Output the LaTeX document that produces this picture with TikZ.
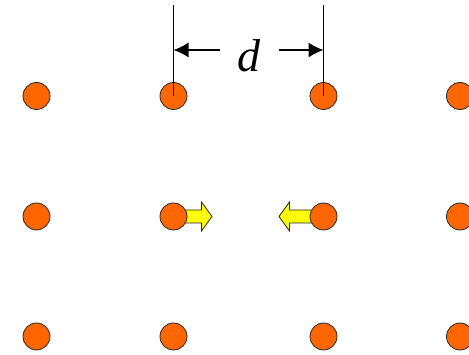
\documentclass[tikz,border=0pt]{standalone}
\usepackage{fontspec}
\setmainfont{Liberation Serif}
\usetikzlibrary{arrows.meta,backgrounds}

\definecolor{dotorange}{HTML}{FF6600}
\definecolor{pushyellow}{HTML}{FFFF00}

\tikzset{
  atom/.style={circle,draw=black!85,line width=0.8pt,fill=dotorange,
    minimum size=27pt,inner sep=0pt},
  push/.style={draw=black!85,line width=0.8pt,fill=pushyellow,line join=miter},
  dimline/.style={line width=1.3pt},
  dimarrow/.style={line width=1.3pt,-{Latex[length=15pt,width=15pt]}}
}

\begin{document}
\begin{tikzpicture}[x=1pt,y=-1pt]
\clip (0,0) rectangle (469,355);
% lattice
\foreach \c/\x in {1/36.5,2/173.5,3/323.5,4/460}
  \foreach \r/\y in {1/96,2/216.5,3/336.5}
    \node[atom] (a\r\c) at (\x,\y) {};
% the two pushed atoms
\begin{scope}[on background layer]
\draw[push,shift={(a22.center)}] (0,-6.5) -- (28,-6.5) -- (28,-14.5) -- (38.5,0)
  -- (28,14.5) -- (28,6.5) -- (0,6.5) -- cycle;
\draw[push,shift={(a23.center)}] (0,-6.5) -- (-34,-6.5) -- (-34,-14.5) -- (-44.5,0)
  -- (-34,14.5) -- (-34,6.5) -- (0,6.5) -- cycle;
\end{scope}
% spacing
\coordinate (t1) at (173.5,5);
\coordinate (t2) at (323.5,5);
\draw[dimline] (t1) -- (a12.center);
\draw[dimline] (t2) -- (a13.center);
\node (lbl) [anchor=base,inner sep=0pt] at (249,72) {\fontsize{46}{46}\selectfont\itshape d};
\coordinate (la) at (220,50);
\coordinate (ra) at (279,50);
\draw[dimarrow] (la) -- (t1 |- la);
\draw[dimarrow] (ra) -- (t2 |- ra);
\end{tikzpicture}
\end{document}
